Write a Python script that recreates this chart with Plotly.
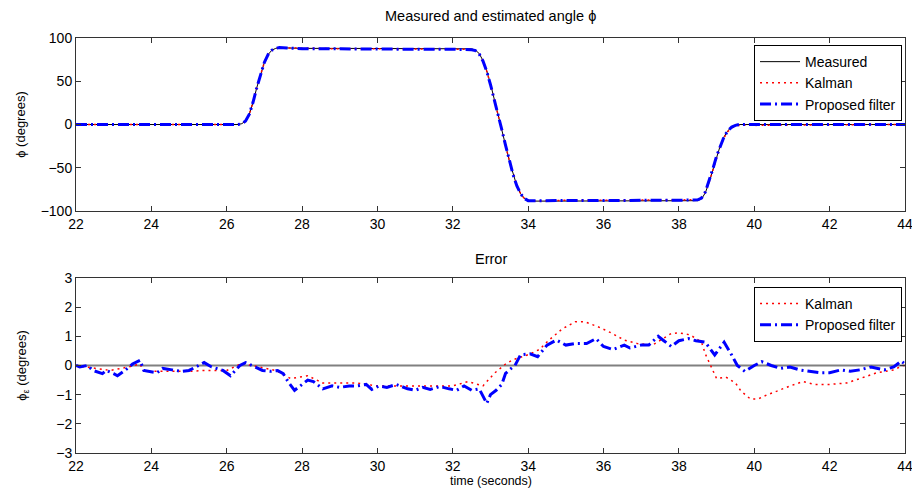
import plotly.graph_objects as go

# ---------------- data ----------------
t_angle = [22.0, 23.0, 24.0, 25.0, 26.0, 26.3, 26.4, 26.5, 26.6, 26.7, 26.8, 26.9, 27.0, 27.1,
           27.2, 27.3, 27.4, 27.6, 28.0, 29.0, 30.0, 31.0, 32.0, 32.5, 32.6, 32.7, 32.8, 32.9,
           33.0, 33.1, 33.2, 33.3, 33.4, 33.5, 33.6, 33.7, 33.8, 33.9, 34.0, 34.1, 34.5, 35.0,
           36.0, 37.0, 38.0, 38.5, 38.6, 38.7, 38.8, 38.9, 39.0, 39.1, 39.2, 39.3, 39.4, 39.5,
           39.6, 39.8, 40.0, 41.0, 42.0, 43.0, 44.0]
phi_measured = [0, 0, 0, 0, 0, 0, 1, 4, 12, 26, 43, 59, 72, 81,
                86, 88, 89, 88.5, 88, 88, 88, 88, 88, 87.5, 86, 82, 74, 62,
                47, 30, 12, -6, -24, -42, -58, -71, -80, -85.5, -88, -88.5, -88.5, -88.5,
                -88.5, -88.5, -88.5, -88, -86, -79, -67, -52, -37, -24, -14, -7, -3, -1,
                0, 0, 0, 0, 0, 0, 0]
phi_kalman = [0, 0, 0, 0, 0, 0, 1, 4, 12, 26, 43, 59, 72, 81,
              86, 88, 89, 88.5, 88, 87.5, 87.5, 87.5, 87.5, 87, 85.5, 81.5, 73.5, 61.5,
              46.5, 29.5, 11.5, -6, -24, -42, -58, -71, -80, -85.5, -88, -88.5, -88, -87.5,
              -87.5, -87.5, -87.5, -87, -85, -78, -67, -52.5, -38, -25, -15, -8, -4, -2,
              -1, -0.5, -1, -0.5, -0.5, 0, 0]
phi_proposed = [0, 0, 0, 0, 0, 0, 1, 4, 12, 26, 43, 59, 72, 81,
                86, 88, 89, 88.5, 87.5, 87.5, 87, 87, 87, 86.5, 85.5, 81.5, 73.5, 61.5,
                46, 29.5, 11.5, -6, -24, -42, -58, -71, -80, -85.5, -88, -88, -88, -88,
                -88, -88, -87.5, -87, -85, -78, -66, -51.5, -36.5, -24, -14, -7, -3, -1,
                0, 0, 0, 0, 0, 0, 0]

t_err_kalman = [22.0, 22.45, 22.9, 23.4, 23.7, 23.8, 24.4, 25.0, 25.4, 26.0, 26.4, 26.85, 27.3,
                27.7, 28.15, 28.55, 29.0, 29.45, 30.0, 30.5, 31.0, 31.5, 32.0, 32.4, 32.8, 33.1,
                33.4, 33.6, 34.0, 34.3, 34.55, 34.9, 35.25, 35.5, 35.85, 36.2, 36.55, 36.9, 37.3,
                37.8, 38.0, 38.3, 38.6, 38.7, 38.85, 39.0, 39.25, 39.5, 39.65, 39.9, 40.1, 40.35,
                40.6, 40.95, 41.3, 41.6, 42.0, 42.45, 42.8, 43.25, 43.7, 43.95, 44.0]
err_kalman = [0.0, -0.08, -0.17, -0.05, 0.05, -0.2, -0.2, -0.2, -0.17, -0.17, 0.07, -0.05, -0.17,
              -0.45, -0.35, -0.6, -0.6, -0.6, -0.7, -0.7, -0.7, -0.7, -0.7, -0.55, -0.7, -0.27,
              0.05, 0.2, 0.37, 0.55, 0.87, 1.25, 1.5, 1.5, 1.33, 1.12, 0.87, 0.75, 0.7,
              1.1, 1.12, 1.05, 0.8, 0.4, -0.05, -0.45, -0.4, -0.6, -0.88, -1.15, -1.15, -1.0,
              -0.88, -0.7, -0.55, -0.65, -0.65, -0.6, -0.45, -0.25, -0.15, 0.0, 0.0]

t_err_proposed = [22.0, 22.1, 22.3, 22.45, 22.7, 22.8, 23.0, 23.1, 23.3, 23.5, 23.7, 23.8, 24.15,
                  24.3, 24.55, 24.8, 25.0, 25.25, 25.4, 25.6, 25.9, 26.1, 26.35, 26.5, 26.75,
                  26.95, 27.15, 27.35, 27.5, 27.65, 27.8, 27.9, 28.15, 28.3, 28.55, 28.8, 29.0,
                  29.25, 29.45, 29.7, 29.85, 30.05, 30.25, 30.5, 30.8, 31.0, 31.2, 31.4, 31.65,
                  31.9, 32.1, 32.3, 32.5, 32.7, 32.9, 33.0, 33.15, 33.3, 33.4, 33.55, 33.65, 33.8,
                  34.05, 34.25, 34.5, 34.75, 35.0, 35.25, 35.55, 35.8, 36.0, 36.25, 36.55, 36.7,
                  37.0, 37.2, 37.45, 37.6, 37.8, 38.0, 38.25, 38.45, 38.7, 38.95, 39.2, 39.4,
                  39.55, 39.75, 40.0, 40.2, 40.45, 40.7, 40.95, 41.2, 41.5, 41.75, 42.0, 42.3,
                  42.55, 42.8, 43.1, 43.45, 43.7, 43.9, 44.0]
err_proposed = [0.0, -0.05, 0.0, -0.17, -0.28, -0.17, -0.28, -0.35, -0.17, 0.05, 0.18, -0.17, -0.25,
                -0.1, -0.15, -0.2, -0.17, 0.0, 0.1, -0.05, -0.17, -0.35, 0.0, 0.1, -0.05,
                -0.17, -0.2, -0.17, -0.28, -0.6, -0.85, -0.75, -0.5, -0.55, -0.8, -0.7, -0.75,
                -0.7, -0.7, -0.65, -0.82, -0.7, -0.75, -0.65, -0.8, -0.85, -0.75, -0.82, -0.72,
                -0.8, -0.85, -0.7, -0.85, -0.8, -1.3, -1.0, -0.85, -0.65, -0.27, -0.1, 0.0, 0.37,
                0.4, 0.3, 0.7, 0.87, 0.7, 0.75, 0.75, 0.92, 0.65, 0.55, 0.7, 0.6,
                0.7, 0.7, 1.0, 0.85, 0.65, 0.85, 0.92, 0.85, 0.8, 0.36, 0.8, 0.36,
                0.0, -0.2, 0.0, 0.13, 0.0, -0.1, -0.05, -0.15, -0.2, -0.25, -0.25, -0.15,
                -0.2, -0.15, -0.05, -0.15, -0.05, 0.15, 0.05]

t_err_ref = [22.0, 44.0]
err_ref = [0.0, 0.0]

x_ticks = [22, 24, 26, 28, 30, 32, 34, 36, 38, 40, 42, 44]
y_ticks_angle = [-100, -50, 0, 50, 100]
y_ticks_err = [-3, -2, -1, 0, 1, 2, 3]

# ---------------- styles ----------------
FONT = "Liberation Sans, Arial, sans-serif"
RED = "#ff0000"
BLUE = "#0000ff"
BLUE_DASH = "11px,4px,2px,4px"
RED_DOT = "2px,4px"

fig = go.Figure()

fig.add_trace(go.Scatter(x=t_angle, y=phi_measured, mode="lines", name="Measured",
                         line=dict(color="black", width=1), xaxis="x", yaxis="y", legend="legend"))
fig.add_trace(go.Scatter(x=t_angle, y=phi_kalman, mode="lines", name="Kalman",
                         line=dict(color=RED, width=1.5, dash=RED_DOT), xaxis="x", yaxis="y",
                         legend="legend"))
fig.add_trace(go.Scatter(x=t_angle, y=phi_proposed, mode="lines", name="Proposed filter",
                         line=dict(color=BLUE, width=3, dash=BLUE_DASH), xaxis="x", yaxis="y",
                         legend="legend"))

fig.add_trace(go.Scatter(x=t_err_ref, y=err_ref, mode="lines", showlegend=False,
                         line=dict(color="#808080", width=1.8), xaxis="x2", yaxis="y2"))
fig.add_trace(go.Scatter(x=t_err_kalman, y=err_kalman, mode="lines", name="Kalman",
                         line=dict(color=RED, width=1.5, dash=RED_DOT), xaxis="x2", yaxis="y2",
                         legend="legend2"))
fig.add_trace(go.Scatter(x=t_err_proposed, y=err_proposed, mode="lines", name="Proposed filter",
                         line=dict(color=BLUE, width=3, dash=BLUE_DASH), xaxis="x2", yaxis="y2",
                         legend="legend2"))

axis_common = dict(showline=True, linecolor="#333333", linewidth=1, mirror="ticks",
                   ticks="inside", ticklen=5, tickcolor="#333333", showgrid=False,
                   zeroline=False, automargin=False, ticklabeloverflow="allow",
                   tickfont=dict(family=FONT, size=14, color="black"))

# page body keeps its default 8px margin, so the figure is sized to fit the 920x497 window
fig.update_layout(
    width=904, height=481,
    margin=dict(l=68, r=7, t=30, b=36),
    paper_bgcolor="white", plot_bgcolor="white",
    font=dict(family=FONT, color="black"),
    xaxis=dict(domain=[0, 1], range=[22, 44], tickvals=x_ticks, anchor="y", **axis_common),
    yaxis=dict(domain=[0.583, 1], range=[-100, 100], tickvals=y_ticks_angle, anchor="x",
               title=dict(text="ϕ (degrees)", font=dict(family=FONT, size=13), standoff=12),
               **axis_common),
    xaxis2=dict(domain=[0, 1], range=[22, 44], tickvals=x_ticks, anchor="y2", **axis_common),
    yaxis2=dict(domain=[0, 0.4217], range=[-3, 3], tickvals=y_ticks_err, anchor="x2",
                title=dict(text="ϕ<sub>ε</sub> (degrees)", font=dict(family=FONT, size=13),
                           standoff=26),
                **axis_common),
    legend=dict(x=0.9964, y=0.983, xanchor="right", yanchor="top",
                bgcolor="white", bordercolor="black", borderwidth=1,
                font=dict(family=FONT, size=14), itemwidth=40, tracegroupgap=0),
    legend2=dict(x=0.9964, y=0.40, xanchor="right", yanchor="top",
                 bgcolor="white", bordercolor="black", borderwidth=1,
                 font=dict(family=FONT, size=14), itemwidth=40, tracegroupgap=0),
    annotations=[
        dict(text="Measured and estimated angle ϕ", xref="paper", yref="paper",
             x=0.5, y=1, yshift=12, xanchor="center", yanchor="bottom", showarrow=False,
             font=dict(family=FONT, size=14.5)),
        dict(text="Error", xref="paper", yref="paper",
             x=0.5, y=0.4217, yshift=9, xanchor="center", yanchor="bottom", showarrow=False,
             font=dict(family=FONT, size=14.5)),
        dict(text="time (seconds)", xref="paper", yref="paper",
             x=0.5, y=0, yshift=-36, xanchor="center", yanchor="bottom", showarrow=False,
             borderpad=0, font=dict(family=FONT, size=12.5)),
    ],
)

fig.write_html("out.html")
